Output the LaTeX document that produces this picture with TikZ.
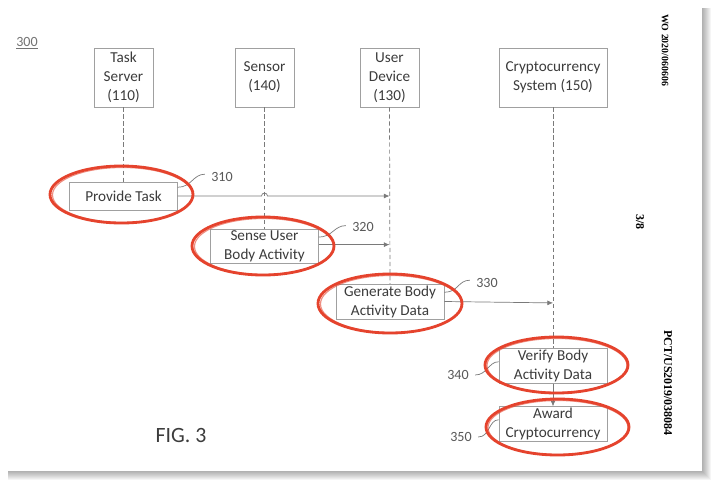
\documentclass[tikz,border=0pt]{standalone}
\usepackage{fontspec}
\setmainfont{Carlito}
\newfontfamily\sideserif{Liberation Serif}
\usetikzlibrary{calc,arrows.meta}
\definecolor{inkgrey}{HTML}{3C3C3C}
\definecolor{edgegrey}{HTML}{A0A0A0}
\definecolor{linegrey}{HTML}{7A7A7A}
\definecolor{markred}{HTML}{E5432D}
\tikzset{
	lifebox/.style={draw=edgegrey, text=inkgrey, align=center, inner sep=1pt,
		minimum width=42pt, minimum height=42pt, font=\fontsize{10.8}{13.5}\selectfont},
	stepbox/.style={draw=edgegrey, text=inkgrey, align=center, inner sep=1pt,
		minimum width=76.5pt, minimum height=24pt, font=\fontsize{10.8}{13.5}\selectfont},
	life/.style={draw=linegrey, dashed, dash pattern=on 3pt off 2pt, line width=0.5pt},
	msg/.style={draw=linegrey, line width=0.5pt, -{Latex[length=4pt,width=3.5pt]}},
	lead/.style={draw=linegrey, line width=0.5pt},
	ring/.style={draw=markred, line width=2pt},
	reflabel/.style={text=inkgrey!85, font=\fontsize{10}{12}\selectfont}
}
\begin{document}
\begin{tikzpicture}[x=0.025cm, y=-0.025cm]
			%%%%% START %%%%%
			\useasboundingbox (0, 0) rectangle (718, 488);
			
			% page with shadow
			\foreach \d in {1,...,9}
				\fill[black, opacity=0.04] (8, 8) rectangle (702+\d, 471+\d);
			\fill[white] (0, 0) rectangle (702, 471);
			
			\node[reflabel, text=black!55] (fignum) at (27, 43) {\underline{300}};
			
			% participants
			\node[lifebox] (task) at (123.5, 77.5) {Task\\Server\\(110)};
			\node[lifebox] (sensor) at (264.5, 77.5) {Sensor\\(140)};
			\node[lifebox] (udev) at (389.5, 77.5) {User\\Device\\(130)};
			\node[lifebox, minimum width=77pt] (crypto) at (553, 77.5) {Cryptocurrency\\System (150)};
			
			% steps
			\node[stepbox, minimum height=20pt] (provide) at (123.5, 196) {Provide Task};
			\node[stepbox] (sense) at (264.5, 246) {Sense User\\Body Activity};
			\node[stepbox, minimum width=77pt] (generate) at (390, 301.5) {Generate Body\\Activity Data};
			\node[stepbox, minimum width=77pt] (verify) at (553, 366) {Verify Body\\Activity Data};
			\node[stepbox, minimum width=77pt] (award) at (553, 424) {Award\\Cryptocurrency};
			
			% lifelines
			\draw[life] (task.south) -- (provide.north);
			\draw[life] (sensor.south) -- (sense.north);
			\draw[life] (udev.south) -- (generate.north);
			\draw[life] (crypto.south) -- (verify.north);
			
			% messages
			\draw[msg] (provide.east) -- ($(provide.east -| sensor)+(-3,0)$)
				arc[start angle=180, end angle=360, radius=3] -- (provide.east -| udev);
			\draw[msg] ([yshift=1pt]sense.east) -- ([yshift=1pt]sense.east -| udev);
			\draw[msg] (generate.east) -- ([yshift=-1pt]generate.east -| crypto);
			\draw[msg] (verify.south) -- (award.north);
			
			% reference numerals
			\node[reflabel] (l310) at (222, 177) {310};
			\node[reflabel] (l320) at (363, 227) {320};
			\node[reflabel] (l330) at (487, 283) {330};
			\node[reflabel] (l340) at (458, 375) {340};
			\node[reflabel] (l350) at (461, 437) {350};
			\draw[lead] ([yshift=-4pt]provide.north east) .. controls +(14,0) and +(-12,0) .. ([xshift=-1pt,yshift=2pt]l310.west);
			\draw[lead] ([yshift=-6pt]sense.north east) .. controls +(14,0) and +(-12,0) .. ([xshift=-1pt,yshift=1pt]l320.west);
			\draw[lead] ([yshift=-6pt]generate.north east) .. controls +(14,0) and +(-12,0) .. ([xshift=-1pt,yshift=2pt]l330.west);
			\draw[lead] ([xshift=1pt]l340.east) .. controls +(12,0) and +(-10,0) .. ([yshift=3pt]verify.west);
			\draw[lead] ([xshift=1pt]l350.east) .. controls +(12,0) and +(-10,0) .. ([yshift=3pt]award.west);
			
			% red rings
			\draw[ring] ($(provide)+(-2,-1.5)$) ellipse (71.5 and 28.5);
			\draw[ring, opacity=0.6, line width=0.8pt] ($(provide)+(-1,-1)$) ellipse (70 and 27.5);
			\draw[ring] ($(sense)+(-1.5,0)$) ellipse (71 and 29);
			\draw[ring, opacity=0.6, line width=0.8pt] ($(sense)+(-0.5,0.5)$) ellipse (69.5 and 28);
			\draw[ring] ($(generate)+(0,2)$) ellipse (72 and 29.5);
			\draw[ring, opacity=0.6, line width=0.8pt] ($(generate)+(1,2.5)$) ellipse (70.5 and 28.5);
			\draw[ring] ($(verify)+(3.5,-1)$) ellipse (71.5 and 28);
			\draw[ring, opacity=0.6, line width=0.8pt] ($(verify)+(4,-0.5)$) ellipse (70 and 27);
			\draw[ring] ($(award)+(4.5,3)$) ellipse (71.5 and 28);
			\draw[ring, opacity=0.6, line width=0.8pt] ($(award)+(5,3.5)$) ellipse (70 and 27);
			
			\node[text=inkgrey, font=\fontsize{15.5}{18}\selectfont] (figtitle) at (181, 436) {FIG. 3};
			
			% page margin texts
			\node[rotate=-90, font=\sideserif\bfseries\fontsize{7}{8}\selectfont] (wono) at (665, 50) {WO 2020/060606};
			\node[rotate=-90, font=\sideserif\bfseries\fontsize{8.5}{10}\selectfont] (sheet) at (640, 222) {3/8};
			\node[rotate=-90, font=\sideserif\bfseries\fontsize{8.5}{10}\selectfont] (pctno) at (668, 383) {PCT/US2019/038084};
			%%%%% END %%%%%
\end{tikzpicture}
\end{document}
